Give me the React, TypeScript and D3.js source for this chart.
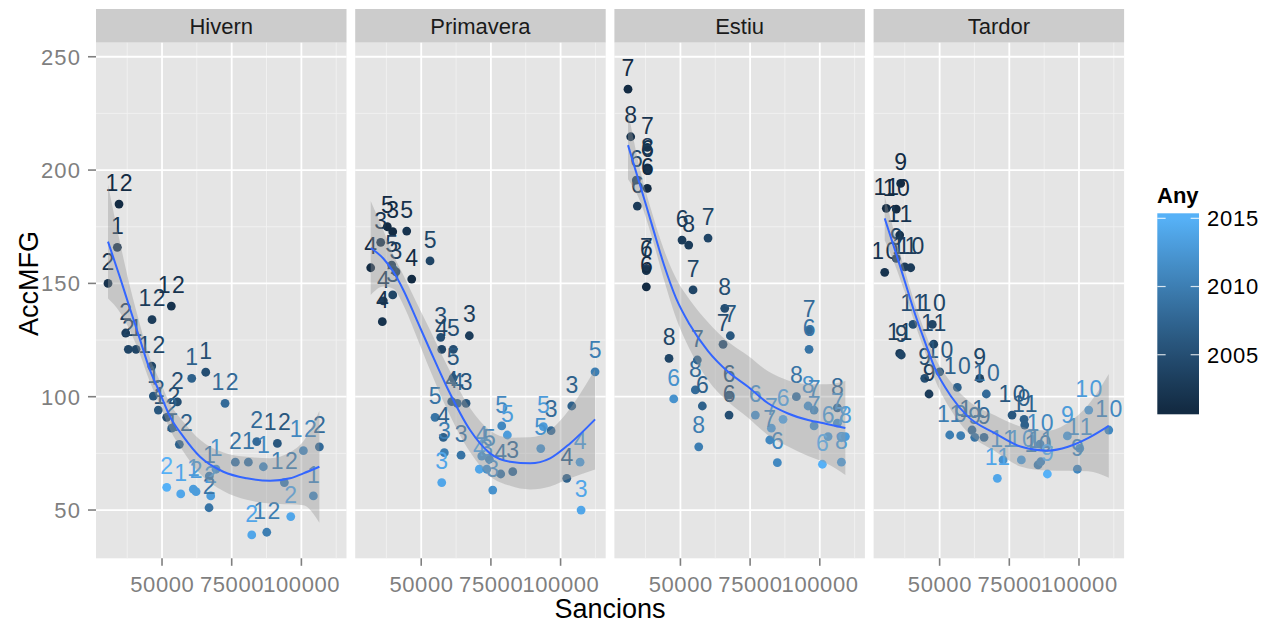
import React from "react";
import * as d3 from "d3";

type Row = [number, number, number, number]; // [Sancions, AccMFG, mes, any]

const seasons = ["Hivern", "Primavera", "Estiu", "Tardor"];
const xTicks = [50000, 75000, 100000];
const yTicks = [50, 100, 150, 200, 250];
const legendTicks = [2005, 2010, 2015];
const yearRange = [2001, 2015];

const hivern: Row[] = [
  [34567, 185.0, 12, 2001], [33957, 165.9, 1, 2002], [30619, 150.0, 2, 2002], [46411, 134.0, 12, 2003],
  [53338, 140.0, 12, 2002], [36972, 128.1, 2, 2003], [37905, 120.9, 2, 2004], [40669, 120.9, 1, 2004],
  [46303, 113.5, 12, 2004], [60659, 108.1, 1, 2007], [65684, 110.8, 1, 2005], [72611, 97.1, 12, 2008],
  [46878, 100.3, 1, 2006], [48672, 94.1, 2, 2006], [51687, 90.9, 12, 2005], [53481, 86.1, 2, 2007],
  [55491, 97.7, 2, 2005], [56209, 79.0, 12, 2007], [76307, 71.1, 2, 2009], [80973, 71.1, 1, 2009],
  [83988, 80.2, 2, 2008], [91381, 79.4, 12, 2006], [86357, 69.1, 1, 2011], [100713, 76.2, 12, 2011],
  [106455, 77.9, 2, 2008], [93893, 62.1, 12, 2010], [104302, 56.2, 1, 2011], [96190, 47.1, 2, 2014],
  [82193, 39.0, 2, 2014], [87577, 40.2, 12, 2010], [51687, 60.0, 2, 2015], [56711, 57.1, 1, 2014],
  [61233, 59.2, 1, 2013], [62203, 58.1, 2, 2013], [66976, 65.0, 1, 2010], [69381, 68.0, 1, 2012],
  [67478, 56.2, 2, 2013], [66868, 51.0, 2, 2009],
];

const primavera: Row[] = [
  [31876, 156.9, 4, 2001], [35464, 168.1, 3, 2002], [36039, 133.1, 4, 2002], [36398, 142.3, 4, 2003],
  [39771, 144.9, 3, 2004], [39412, 158.1, 5, 2003], [40956, 155.1, 3, 2003], [37833, 175.0, 5, 2001],
  [39771, 172.8, 3, 2001], [44796, 173.1, 5, 2002], [46590, 151.9, 4, 2001], [53158, 159.9, 5, 2004],
  [56999, 126.2, 3, 2005], [57357, 120.9, 4, 2004], [61521, 120.9, 5, 2005], [67263, 126.9, 3, 2003],
  [61413, 108.2, 5, 2006], [60946, 97.8, 4, 2006], [62956, 97.1, 4, 2007], [66079, 97.1, 3, 2006],
  [54953, 90.9, 5, 2009], [57932, 82.1, 4, 2007], [58291, 75.3, 3, 2010], [57357, 62.1, 3, 2014],
  [64284, 74.2, 3, 2009], [78891, 87.1, 5, 2011], [80901, 83.1, 5, 2013], [71713, 73.8, 4, 2012],
  [74441, 72.4, 5, 2011], [70852, 68.0, 4, 2014], [73508, 68.0, 3, 2012], [78533, 65.9, 4, 2009],
  [82839, 66.9, 3, 2008], [75661, 58.8, 3, 2012], [92889, 77.1, 5, 2012], [93822, 86.8, 5, 2013],
  [96585, 85.0, 3, 2008], [104014, 95.9, 3, 2007], [102220, 64.0, 4, 2007], [106993, 71.1, 4, 2013],
  [107352, 50.0, 3, 2014], [112377, 111.0, 5, 2010],
];

const estiu: Row[] = [
  [31194, 235.7, 7, 2001], [32163, 214.7, 8, 2002], [38120, 210.0, 7, 2002], [38120, 201.0, 8, 2003],
  [38120, 200.0, 6, 2002], [34173, 195.6, 6, 2004], [38120, 191.9, 6, 2001], [34532, 184.1, 6, 2003],
  [37762, 156.6, 7, 2003], [37762, 155.6, 6, 2002], [37762, 148.5, 6, 2001], [50574, 169.1, 6, 2003],
  [52979, 166.9, 8, 2003], [59906, 170.0, 7, 2004], [54522, 147.1, 7, 2004], [65899, 139.0, 8, 2005],
  [67909, 126.9, 7, 2006], [65289, 123.1, 7, 2005], [45909, 116.9, 8, 2004], [47595, 99.0, 6, 2012],
  [56065, 116.2, 7, 2007], [55348, 103.0, 8, 2008], [57860, 95.9, 6, 2007], [56568, 77.9, 8, 2010],
  [67443, 100.7, 6, 2006], [67443, 91.9, 6, 2005], [76882, 91.9, 6, 2012], [82624, 86.1, 7, 2013],
  [82050, 80.9, 7, 2011], [84777, 70.9, 6, 2011], [86823, 90.0, 6, 2014], [91597, 100.0, 8, 2009],
  [95796, 95.9, 8, 2012], [97949, 94.1, 7, 2011], [96155, 129.4, 7, 2008], [96155, 120.9, 6, 2009],
  [97949, 87.1, 7, 2012], [100928, 70.2, 6, 2015], [102974, 82.4, 6, 2013], [106311, 95.1, 8, 2008],
  [107747, 81.9, 7, 2014], [109183, 82.4, 8, 2013], [107747, 71.1, 8, 2013], [106311, 88.3, 7, 2012],
];

const tardor: Row[] = [
  [30870, 183.1, 11, 2001], [34460, 182.8, 10, 2001], [36039, 194.1, 9, 2001], [35680, 171.3, 11, 2002],
  [30297, 154.9, 10, 2002], [34460, 161.0, 9, 2003], [37474, 157.3, 11, 2003], [39628, 156.9, 10, 2003],
  [40453, 131.9, 11, 2005], [47380, 131.9, 10, 2004], [47882, 123.2, 11, 2004], [35680, 119.1, 11, 2003],
  [36254, 118.4, 9, 2004], [44652, 108.1, 9, 2005], [50036, 111.0, 10, 2006], [46196, 101.2, 9, 2003],
  [56353, 104.1, 10, 2007], [64392, 108.1, 9, 2004], [66761, 101.2, 10, 2008], [53625, 83.1, 11, 2010],
  [57573, 82.8, 9, 2010], [61628, 85.3, 11, 2008], [62597, 82.1, 9, 2009], [65935, 82.1, 9, 2008],
  [75984, 91.9, 10, 2006], [80291, 90.0, 9, 2007], [80542, 87.5, 11, 2007], [72754, 72.1, 11, 2012],
  [70709, 64.0, 11, 2014], [79322, 72.1, 10, 2013], [85316, 69.9, 10, 2010], [86285, 71.3, 11, 2011],
  [86034, 79.1, 10, 2011], [88654, 65.9, 9, 2015], [95832, 82.7, 9, 2013], [99421, 68.0, 9, 2011],
  [100282, 77.2, 11, 2012], [103512, 94.1, 10, 2013], [110690, 85.3, 10, 2011],
];

// loess smooth: [Sancions, fit, half-width of confidence band]
const hivernSmooth: [number, number, number][] = [
  [30619, 168.4, 25.1], [34926, 152.6, 15.4], [38515, 138.8, 9.7], [42104, 125.2, 6.6], [45442, 112.5, 5.3],
  [49282, 101.5, 5.3], [52871, 91.2, 5.7], [57645, 82.4, 6.6], [63641, 73.5, 7.5], [72000, 66.9, 8.5],
  [80399, 64.0, 9.5], [88761, 62.9, 10.0], [95939, 64.0, 11.5], [100713, 66.2, 14.1], [106455, 69.1, 24.7],
];
const primaveraSmooth: [number, number, number][] = [
  [31876, 165.6, 20.7], [36398, 161.0, 12.4], [40013, 155.1, 7.5], [43576, 147.1, 6.6], [48385, 133.9, 7.5],
  [53158, 120.6, 8.8], [59152, 104.4, 9.7], [67514, 85.3, 9.7], [74692, 75.0, 10.1], [81870, 71.3, 10.6],
  [89048, 70.6, 11.5], [96226, 72.8, 12.4], [103404, 79.4, 15.4], [112377, 90.0, 22.1],
];
const estiuSmooth: [number, number, number][] = [
  [31194, 211.0, 15.0], [35500, 193.4, 7.0], [39806, 175.7, 5.5], [44114, 158.1, 6.6], [48421, 143.5, 8.8],
  [53445, 131.6, 11.0], [59906, 120.1, 12.8], [67084, 111.0, 13.2], [74262, 104.4, 13.7], [81440, 97.1, 14.1],
  [88618, 92.6, 14.6], [95796, 89.7, 15.9], [102490, 88.0, 17.5], [109183, 86.2, 20.7],
];
const tardorSmooth: [number, number, number][] = [
  [30297, 178.7, 9.7], [33993, 164.7, 6.6], [37582, 150.6, 4.9], [41171, 136.5, 4.4], [44760, 124.1, 4.4],
  [48241, 112.7, 4.9], [54199, 100.0, 6.2], [60193, 91.2, 7.1], [69775, 83.9, 7.9], [79322, 77.9, 8.8],
  [88905, 76.2, 8.8], [96083, 77.9, 10.6], [103261, 81.7, 14.6], [110690, 87.1, 22.9],
];

const seasonPoints = [hivern, primavera, estiu, tardor];
const seasonSmooth = [hivernSmooth, primaveraSmooth, estiuSmooth, tardorSmooth];

const FONT = "'Liberation Sans', Arial, Helvetica, sans-serif";

export default function App() {
  const W = 1273, H = 624;
  const panelLeft0 = 96, panelStep = 259.2, panelW = 250.5;
  const plotTop = 42.7, plotBottom = 558.3, stripTop = 9;
  const xDomain: [number, number] = [26311, 116186];
  const yDomain: [number, number] = [28.7, 256.2];
  const ls = 0.6; // digit letter spacing

  const y = d3.scaleLinear().domain(yDomain).range([plotBottom, plotTop]);
  const color = d3
    .scaleLinear<string>()
    .domain(yearRange)
    .range(["#132B43", "#56B1F7"])
    .interpolate(d3.interpolateLab);

  const xMinor = [xTicks[0] - 12500, ...xTicks.map((t) => t + 12500)].filter(
    (v) => v > xDomain[0] && v < xDomain[1]
  );
  const yMinor = [yTicks[0] - 25, ...yTicks.map((t) => t + 25)].filter(
    (v) => v > yDomain[0] && v < yDomain[1]
  );

  // legend
  const barX = 1157.3, barW = 41.7, barTop = 213.3, barBottom = 414.3;
  const barH = barBottom - barTop;
  const legendY = d3
    .scaleLinear()
    .domain(yearRange)
    .range([barBottom - barH * 0.025, barTop + barH * 0.025]);
  const gradStops = d3.range(0, 21).map((i) => {
    const v = yearRange[0] + ((yearRange[1] - yearRange[0]) * i) / 20;
    return { offset: 1 - (0.025 + 0.95 * (i / 20)), color: color(v) };
  });

  return (
    <svg
      width={W}
      height={H}
      style={{ position: "absolute", left: 0, top: 0, background: "#FFFFFF" }}
      fontFamily={FONT}
    >
      <defs>
        <linearGradient id="legendGrad" x1="0" y1="0" x2="0" y2="1">
          {gradStops
            .slice()
            .sort((a, b) => a.offset - b.offset)
            .map((s, i) => (
              <stop key={i} offset={s.offset} stopColor={s.color} />
            ))}
        </linearGradient>
        {seasons.map((s, i) => (
          <clipPath id={`clip${i}`} key={s}>
            <rect x={panelLeft0 + i * panelStep} y={plotTop} width={panelW} height={plotBottom - plotTop} />
          </clipPath>
        ))}
      </defs>
      <rect x={0} y={0} width={W} height={H} fill="#FFFFFF" />

      {seasons.map((season, i) => {
        const left = panelLeft0 + i * panelStep;
        const x = d3.scaleLinear().domain(xDomain).range([left, left + panelW]);
        const pts = seasonPoints[i];
        const sm = seasonSmooth[i];
        const area = d3
          .area<[number, number, number]>()
          .x((d) => x(d[0]))
          .y0((d) => y(d[1] - d[2]))
          .y1((d) => y(d[1] + d[2]))
          .curve(d3.curveMonotoneX);
        const line = d3
          .line<[number, number, number]>()
          .x((d) => x(d[0]))
          .y((d) => y(d[1]))
          .curve(d3.curveMonotoneX);
        return (
          <g key={season}>
            {/* strip */}
            <rect x={left} y={stripTop} width={panelW} height={plotTop - stripTop} fill="#CCCCCC" />
            <text x={left + panelW / 2} y={34.3} textAnchor="middle" fontSize={22} fill="#1A1A1A">
              {season}
            </text>
            {/* panel */}
            <rect x={left} y={plotTop} width={panelW} height={plotBottom - plotTop} fill="#E5E5E5" />
            {xMinor.map((v) => (
              <line key={"xm" + v} x1={x(v)} x2={x(v)} y1={plotTop} y2={plotBottom} stroke="#F2F2F2" strokeWidth={0.9} />
            ))}
            {yMinor.map((v) => (
              <line key={"ym" + v} x1={left} x2={left + panelW} y1={y(v)} y2={y(v)} stroke="#F2F2F2" strokeWidth={0.9} />
            ))}
            {xTicks.map((v) => (
              <line key={"xM" + v} x1={x(v)} x2={x(v)} y1={plotTop} y2={plotBottom} stroke="#FFFFFF" strokeWidth={1.8} />
            ))}
            {yTicks.map((v) => (
              <line key={"yM" + v} x1={left} x2={left + panelW} y1={y(v)} y2={y(v)} stroke="#FFFFFF" strokeWidth={1.8} />
            ))}
            <g clipPath={`url(#clip${i})`}>
              {pts.map((d, j) => (
                <circle key={"p" + j} cx={x(d[0])} cy={y(d[1])} r={4.4} fill={color(d[3])} />
              ))}
              {pts.map((d, j) => (
                <text
                  key={"t" + j}
                  x={x(d[0]) + 0.75}
                  y={y(d[1]) - 13.3}
                  textAnchor="middle"
                  fontSize={23}
                  letterSpacing={1.5}
                  fill={color(d[3])}
                >
                  {d[2]}
                </text>
              ))}
              <path d={area(sm) || ""} fill="#999999" fillOpacity={0.4} />
              <path d={line(sm) || ""} fill="none" stroke="#3366FF" strokeWidth={2} />
            </g>
            {/* x axis */}
            {xTicks.map((v) => (
              <g key={"xt" + v}>
                <line x1={x(v)} x2={x(v)} y1={plotBottom} y2={plotBottom + 7.5} stroke="#7F7F7F" strokeWidth={1.6} />
                <text x={x(v) + ls / 2} y={592} textAnchor="middle" fontSize={22} letterSpacing={ls} fill="#7F7F7F">
                  {v}
                </text>
              </g>
            ))}
          </g>
        );
      })}

      {/* y axis */}
      {yTicks.map((v) => (
        <g key={"yt" + v}>
          <line x1={panelLeft0 - 8} x2={panelLeft0} y1={y(v)} y2={y(v)} stroke="#7F7F7F" strokeWidth={1.6} />
          <text x={80 + 1.2} y={y(v)} dy="0.36em" textAnchor="end" fontSize={22} letterSpacing={1.2} fill="#7F7F7F">
            {v}
          </text>
        </g>
      ))}

      {/* axis titles */}
      <text x={610} y={618} textAnchor="middle" fontSize={27} fill="#000000">
        Sancions
      </text>
      <text transform={`translate(38, 283.5) rotate(-90)`} textAnchor="middle" fontSize={27} fill="#000000">
        AccMFG
      </text>

      {/* legend */}
      <text x={1157} y={203.3} fontSize={22} fontWeight="bold" fill="#000000">
        Any
      </text>
      <rect x={barX} y={barTop} width={barW} height={barH} fill="url(#legendGrad)" />
      {legendTicks.map((v) => (
        <g key={"lt" + v}>
          <line x1={barX} x2={barX + barW / 5} y1={legendY(v)} y2={legendY(v)} stroke="#FFFFFF" strokeOpacity={0.8} strokeWidth={1.2} />
          <line x1={barX + barW - barW / 5} x2={barX + barW} y1={legendY(v)} y2={legendY(v)} stroke="#FFFFFF" strokeOpacity={0.8} strokeWidth={1.2} />
          <text x={1207} y={legendY(v)} dy="0.36em" fontSize={22} letterSpacing={0.8} fill="#000000">
            {v}
          </text>
        </g>
      ))}
    </svg>
  );
}
